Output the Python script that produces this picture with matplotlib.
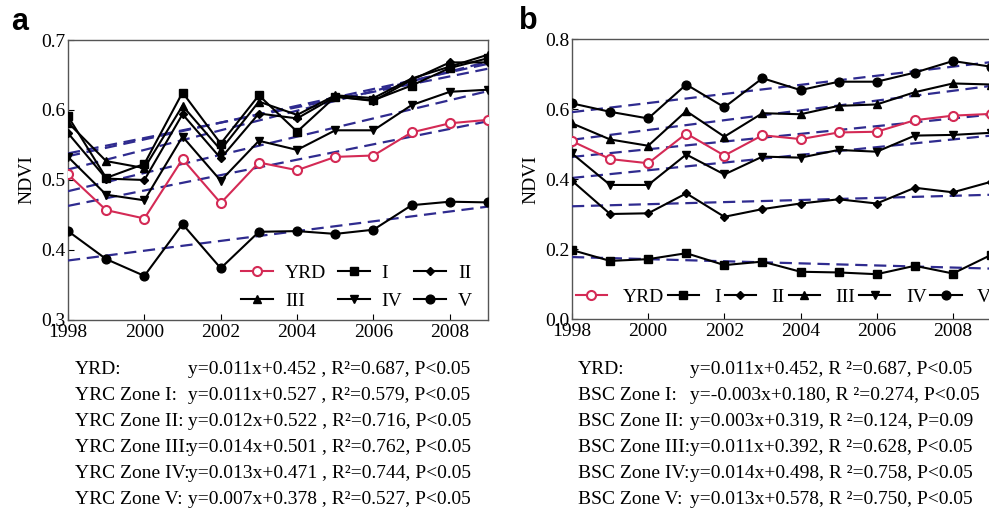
import numpy as np
import matplotlib
matplotlib.use("Agg")
import matplotlib.pyplot as plt

plt.rcParams["font.family"] = ["Liberation Serif", "DejaVu Serif"]

W, H = 989, 512

years = np.arange(1998, 2010)
labels = ["YRD", "I", "II", "III", "IV", "V"]

# panel a (YRC) values
a_yrd = [0.508, 0.457, 0.445, 0.530, 0.467, 0.525, 0.514, 0.533, 0.535, 0.568, 0.581, 0.586]
a_i = [0.591, 0.503, 0.523, 0.625, 0.552, 0.621, 0.569, 0.619, 0.614, 0.635, 0.660, 0.674]
a_ii = [0.567, 0.502, 0.500, 0.594, 0.531, 0.595, 0.588, 0.619, 0.613, 0.643, 0.668, 0.668]
a_iii = [0.582, 0.527, 0.517, 0.606, 0.543, 0.612, 0.593, 0.621, 0.617, 0.645, 0.662, 0.679]
a_iv = [0.533, 0.479, 0.471, 0.562, 0.499, 0.556, 0.543, 0.571, 0.571, 0.607, 0.626, 0.629]
a_v = [0.427, 0.387, 0.363, 0.437, 0.374, 0.426, 0.427, 0.423, 0.429, 0.464, 0.469, 0.468]

# panel b (BSC) values
b_yrd = a_yrd
b_i = [0.197, 0.166, 0.171, 0.188, 0.154, 0.164, 0.135, 0.133, 0.128, 0.152, 0.130, 0.183]
b_ii = [0.395, 0.300, 0.302, 0.359, 0.292, 0.314, 0.330, 0.342, 0.330, 0.375, 0.362, 0.392]
b_iii = [0.559, 0.513, 0.495, 0.594, 0.521, 0.588, 0.585, 0.609, 0.613, 0.648, 0.673, 0.670]
b_iv = [0.473, 0.383, 0.383, 0.470, 0.413, 0.464, 0.461, 0.483, 0.478, 0.524, 0.526, 0.532]
b_v = [0.616, 0.592, 0.573, 0.670, 0.605, 0.688, 0.654, 0.678, 0.678, 0.704, 0.737, 0.721]

# regression results printed under each panel (x = 1 for 1998)
a_names = ["YRD:", "YRC Zone I:", "YRC Zone II:", "YRC Zone III:", "YRC Zone IV:", "YRC Zone V:"]
a_slope = [0.011, 0.011, 0.012, 0.014, 0.013, 0.007]
a_icpt = [0.452, 0.527, 0.522, 0.501, 0.471, 0.378]
a_r2 = [0.687, 0.579, 0.716, 0.762, 0.744, 0.527]
a_p = ["P<0.05"] * 6

b_names = ["YRD:", "BSC Zone I:", "BSC Zone II:", "BSC Zone III:", "BSC Zone IV:", "BSC Zone V:"]
b_slope = [0.011, -0.003, 0.003, 0.011, 0.014, 0.013]
b_icpt = [0.452, 0.180, 0.319, 0.392, 0.498, 0.578]
b_r2 = [0.687, 0.274, 0.124, 0.628, 0.758, 0.750]
b_p = ["P<0.05", "P<0.05", "P=0.09", "P<0.05", "P<0.05", "P<0.05"]

RED = "#d42a55"
NAVY = "#2f2b8f"
markers = ["o", "s", "D", "^", "v", "o"]
msizes = [6.5, 5.8, 4.5, 6, 6, 6.3]


def px_axes(fig, left, top, right, bottom):
    return fig.add_axes([left / W, 1 - bottom / H, (right - left) / W, (bottom - top) / H])


def draw_panel(ax, series, slopes, icpts, ylim, yticks):
    idx = np.arange(1, len(years) + 1)
    for s, b in zip(slopes, icpts):
        ax.plot(years, s * idx + b, color=NAVY, lw=1.6, ls=(0, (5.5, 3)), zorder=3)
    handles = []
    for k, vals in enumerate(series):
        if k == 0:
            h, = ax.plot(years, vals, color=RED, lw=1.5, marker="o", ms=msizes[k],
                         mfc="white", mec=RED, mew=1.5, zorder=4)
        else:
            h, = ax.plot(years, vals, color="black", lw=1.5, marker=markers[k],
                         ms=msizes[k], zorder=4)
        handles.append(h)
    ax.set_xlim(1998, 2009)
    ax.set_ylim(*ylim)
    ax.set_xticks(range(1998, 2010, 2))
    ax.set_yticks(yticks)
    ax.set_yticklabels([f"{t:.1f}" for t in yticks])
    ax.tick_params(direction="in", length=4, labelsize=14, top=False, right=False)
    ax.tick_params(axis="y", pad=2)
    ax.tick_params(axis="x", pad=3)
    for sp in ax.spines.values():
        sp.set_color("#555555")
        sp.set_linewidth(1.0)
    ax.set_ylabel("NDVI", fontsize=14, labelpad=4)
    return handles


def eq_text(fig, x_name, x_eq, names, slopes, icpts, r2s, ps, r_str, sep):
    for i in range(len(names)):
        y = 1 - (370 + i * 26) / H
        fig.text(x_name / W, y, names[i], fontsize=14, va="center")
        eq = f"y={slopes[i]:.3f}x+{icpts[i]:.3f}{sep}, {r_str}={r2s[i]:.3f}, {ps[i]}"
        fig.text(x_eq / W, y, eq, fontsize=14, va="center")


fig = plt.figure(figsize=(W / 100, H / 100), dpi=100)

ax_a = px_axes(fig, 68, 40, 488, 320)
ha = draw_panel(ax_a, [a_yrd, a_i, a_ii, a_iii, a_iv, a_v], a_slope, a_icpt,
                (0.3, 0.7), [0.3, 0.4, 0.5, 0.6, 0.7])
order = [0, 3, 1, 4, 2, 5]
ax_a.legend([ha[k] for k in order], [labels[k] for k in order], ncol=3, frameon=False,
            loc="lower right", bbox_to_anchor=(0.985, 0.0), borderaxespad=0.1,
            fontsize=14, handlelength=1.65, handletextpad=0.6, columnspacing=0.6,
            labelspacing=0.55)

ax_b = px_axes(fig, 572, 39, 991, 319)
hb = draw_panel(ax_b, [b_yrd, b_i, b_ii, b_iii, b_iv, b_v], b_slope, b_icpt,
                (0.0, 0.8), [0.0, 0.2, 0.4, 0.6, 0.8])
ax_b.legend(hb, labels, ncol=6, frameon=False, loc="center left",
            bbox_to_anchor=(0.0, 0.079), borderaxespad=0.0, borderpad=0.2,
            fontsize=14, handlelength=1.6, handletextpad=0.8, columnspacing=0.2)

fig.text(20 / W, 1 - 22 / H, "a", fontsize=22, fontweight="bold",
         family="Liberation Sans", ha="center", va="center")
fig.text(528 / W, 1 - 21 / H, "b", fontsize=22, fontweight="bold",
         family="Liberation Sans", ha="center", va="center")

eq_text(fig, 75, 188, a_names, a_slope, a_icpt, a_r2, a_p, "R\u00b2", " ")
eq_text(fig, 578, 690, b_names, b_slope, b_icpt, b_r2, b_p, "R \u00b2", "")

fig.savefig("out.png", dpi=100)
